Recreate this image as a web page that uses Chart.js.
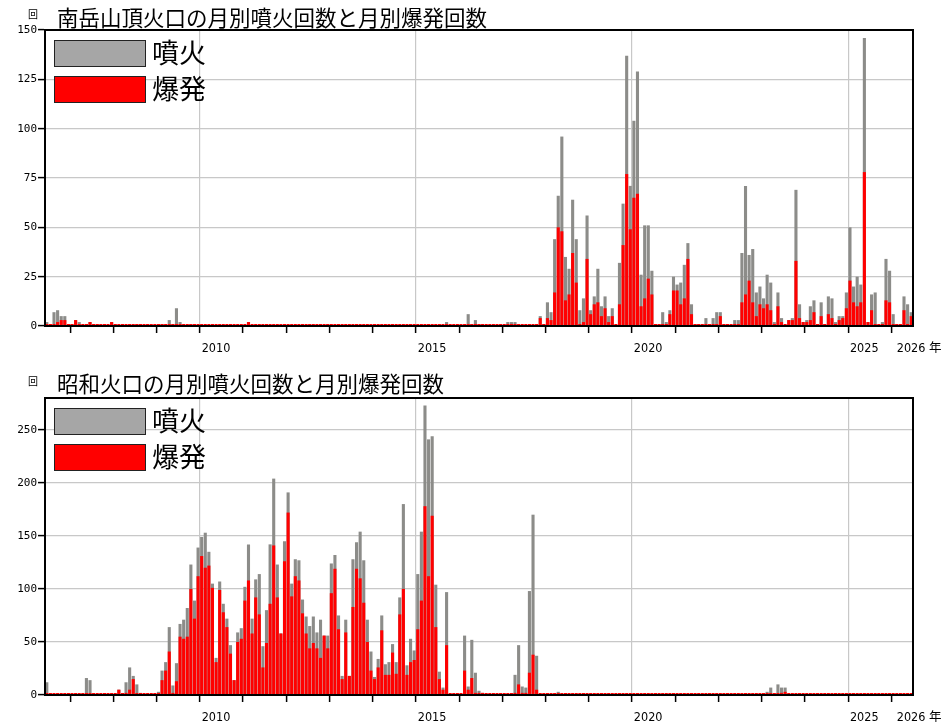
<!DOCTYPE html>
<html lang="ja">
<head>
<meta charset="utf-8">
<title>桜島 月別噴火回数と月別爆発回数</title>
<script src="https://cdn.jsdelivr.net/npm/chart.js@4/dist/chart.umd.min.js"></script>
<style>
  body { margin: 0; background: #fff; }
  #wrap { position: relative; width: 944px; height: 725px; overflow: hidden; }
  canvas { position: absolute; left: 0; }
  #c1 { top: 0; }
  #c2 { top: 362px; }
  .title { position: absolute; left: 57px; font: 21.5px/21.5px "Noto Sans CJK JP", sans-serif; color: #000; white-space: nowrap; }
  .unit { position: absolute; left: 28px; font: 10px/10px "Noto Sans CJK JP", sans-serif; color: #000; }
  .legend { position: absolute; left: 54px; }
  .legend .item { position: relative; height: 36px; }
  .legend .sw { position: absolute; left: 0; top: 0; width: 90px; height: 25px; border: 1px solid #222; }
  .legend .lb { position: absolute; left: 98px; top: -2px; font: 27px/27px "Noto Sans CJK JP", sans-serif; color: #000; white-space: nowrap; }
</style>
</head>
<body>
<div id="wrap">
  <canvas id="c1" width="944" height="362"></canvas>
  <canvas id="c2" width="944" height="363"></canvas>
  <div class="unit" style="top:9px">回</div>
  <div class="title" style="top:6px">南岳山頂火口の月別噴火回数と月別爆発回数</div>
  <div class="legend" id="lg1" style="top:40px"></div>
  <div class="unit" style="top:376px">回</div>
  <div class="title" style="top:372px">昭和火口の月別噴火回数と月別爆発回数</div>
  <div class="legend" id="lg2" style="top:408px"></div>
</div>
<script>
// months shown: 2006-06 .. 2026-06
const startYear = 2006, startMonth = 6, monthCount = 241;
const months = [];
for (let i = 0; i < monthCount; i++) {
  const m = startMonth - 1 + i;
  months.push({ year: startYear + Math.floor(m / 12), month: (m % 12) + 1 });
}
const monthLabels = months.map(d => d.year + "-" + String(d.month).padStart(2, "0"));

const seriesNames = ["噴火", "爆発"];
const yearLabels = { 2010: "2010", 2015: "2015", 2020: "2020", 2025: "2025", 2026: " 2026 年" };

// 南岳山頂火口
const minamiEruptions = [
  2, 0, 7, 8, 5, 5, 1,                             // 2006 Jun-Dec
  1, 3, 2, 0, 1, 2, 0, 1, 0, 1, 0, 2,              // 2007
  1, 0, 0, 0, 1, 0, 1, 1, 0, 1, 0, 0,              // 2008
  1, 1, 0, 3, 1, 9, 2, 0, 0, 1, 0, 0,              // 2009
  0, 0, 0, 0, 0, 0, 0, 0, 0, 0, 0, 0,              // 2010
  0, 2, 0, 0, 0, 0, 0, 0, 0, 0, 0, 0,              // 2011
  0, 0, 0, 0, 0, 0, 1, 0, 0, 0, 0, 1,              // 2012
  0, 0, 0, 0, 0, 0, 0, 0, 0, 0, 0, 0,              // 2013
  0, 0, 0, 0, 0, 0, 0, 0, 0, 0, 1, 0,              // 2014
  0, 0, 0, 0, 0, 0, 0, 0, 2, 0, 0, 0,              // 2015
  0, 0, 6, 1, 3, 1, 0, 0, 0, 0, 0, 0,              // 2016
  0, 2, 2, 2, 0, 0, 0, 0, 0, 1, 5, 1,              // 2017
  12, 7, 44, 66, 96, 35, 29, 64, 44, 8, 14, 56,    // 2018
  8, 15, 29, 10, 15, 5, 9, 0, 32, 62, 137, 71,     // 2019
  104, 129, 26, 51, 51, 28, 0, 1, 7, 2, 8, 25,     // 2020
  21, 22, 31, 42, 11, 1, 1, 0, 4, 1, 4, 7,         // 2021
  7, 1, 1, 0, 3, 3, 37, 71, 36, 39, 17, 20,        // 2022
  14, 26, 22, 2, 17, 4, 0, 3, 4, 69, 11, 2,        // 2023
  3, 10, 13, 1, 12, 1, 15, 14, 2, 5, 5, 17,        // 2024
  50, 20, 25, 21, 146, 2, 16, 17, 0, 2, 34, 28,    // 2025
  6, 1, 0, 15, 11, 7                               // 2026 Jan-Jun
];
const minamiExplosions = [
  0, 0, 0, 2, 3, 3, 0,
  1, 3, 0, 0, 0, 2, 0, 1, 0, 1, 0, 2,
  1, 0, 0, 0, 1, 0, 1, 1, 0, 0, 0, 0,
  1, 1, 0, 0, 0, 0, 0, 0, 0, 1, 0, 0,
  0, 0, 0, 0, 0, 0, 0, 0, 0, 0, 0, 0,
  0, 2, 0, 0, 0, 0, 0, 0, 0, 0, 0, 0,
  0, 0, 0, 0, 0, 0, 1, 0, 0, 0, 0, 1,
  0, 0, 0, 0, 0, 0, 0, 0, 0, 0, 0, 0,
  0, 0, 0, 0, 0, 0, 0, 0, 0, 0, 0, 0,
  0, 0, 0, 0, 0, 0, 0, 0, 0, 0, 0, 0,
  0, 0, 0, 0, 0, 0, 0, 0, 0, 0, 0, 0,
  0, 0, 0, 0, 0, 0, 0, 0, 0, 0, 4, 0,
  4, 3, 17, 50, 48, 13, 16, 37, 22, 0, 2, 34,
  6, 11, 12, 5, 9, 2, 5, 0, 11, 41, 77, 49,
  65, 67, 10, 14, 24, 16, 0, 1, 0, 0, 6, 18,
  18, 11, 14, 34, 6, 0, 0, 0, 0, 1, 1, 1,
  5, 0, 1, 0, 1, 1, 12, 16, 23, 12, 5, 11,
  9, 11, 8, 1, 10, 2, 0, 3, 3, 33, 4, 2,
  2, 3, 7, 0, 5, 0, 6, 4, 1, 3, 4, 9,
  23, 12, 10, 12, 78, 2, 8, 1, 0, 0, 13, 12,
  1, 0, 0, 8, 1, 5
];

// 昭和火口
const showaEruptions = [
  12, 0, 0, 0, 0, 0, 0,
  0, 0, 0, 0, 16, 14, 0, 0, 0, 0, 0, 0,
  0, 5, 1, 12, 26, 18, 10, 2, 1, 0, 0, 0,
  3, 23, 31, 64, 9, 30, 67, 71, 82, 123, 89, 139,
  149, 153, 135, 105, 35, 107, 86, 72, 47, 14, 59, 63,
  102, 142, 72, 109, 114, 46, 80, 142, 204, 123, 58, 145,
  191, 105, 128, 127, 90, 74, 65, 74, 59, 71, 56, 56,
  124, 132, 75, 18, 71, 18, 128, 144, 154, 127, 71, 41,
  17, 34, 75, 29, 31, 48, 31, 92, 180, 28, 53, 42,
  114, 154, 273, 241, 244, 104, 22, 7, 97, 1, 0, 0,
  0, 56, 8, 52, 21, 4, 2, 0, 0, 0, 0, 0,
  0, 0, 0, 19, 47, 8, 7, 98, 170, 37, 0, 0,
  0, 0, 0, 3, 0, 0, 0, 0, 0, 0, 0, 0,
  0, 0, 0, 0, 0, 0, 0, 0, 0, 0, 0, 0,
  0, 0, 0, 0, 0, 0, 0, 0, 0, 0, 0, 0,
  0, 0, 0, 0, 0, 0, 0, 0, 0, 0, 0, 0,
  0, 0, 0, 0, 0, 0, 0, 0, 0, 0, 0, 0,
  0, 3, 7, 1, 10, 7, 7, 1, 0, 0, 0, 0,
  0, 0, 0, 0, 0, 0, 0, 0, 0, 0, 0, 0,
  0, 0, 0, 0, 0, 0, 0, 0, 0, 0, 0, 0,
  0, 0, 0, 0, 0, 0
];
const showaExplosions = [
  0, 0, 0, 0, 0, 0, 0,
  0, 0, 0, 0, 0, 0, 0, 0, 0, 0, 0, 0,
  0, 5, 0, 2, 5, 15, 1, 0, 0, 0, 0, 0,
  1, 14, 23, 41, 2, 13, 55, 53, 55, 100, 72, 112,
  131, 120, 122, 101, 31, 99, 78, 64, 39, 14, 50, 53,
  89, 108, 58, 92, 76, 26, 49, 86, 141, 92, 58, 126,
  172, 93, 112, 108, 77, 58, 44, 49, 44, 35, 56, 44,
  96, 119, 62, 15, 59, 18, 83, 119, 110, 87, 50, 23,
  15, 26, 61, 19, 19, 40, 20, 76, 100, 19, 31, 33,
  62, 89, 178, 112, 169, 64, 15, 5, 47, 0, 0, 0,
  0, 23, 5, 16, 2, 2, 2, 0, 0, 0, 0, 0,
  0, 0, 0, 2, 10, 2, 2, 21, 38, 5, 0, 0,
  0, 0, 0, 0, 0, 0, 0, 0, 0, 0, 0, 0,
  0, 0, 0, 0, 0, 0, 0, 0, 0, 0, 0, 0,
  0, 0, 0, 0, 0, 0, 0, 0, 0, 0, 0, 0,
  0, 0, 0, 0, 0, 0, 0, 0, 0, 0, 0, 0,
  0, 0, 0, 0, 0, 0, 0, 0, 0, 0, 0, 0,
  0, 0, 0, 0, 0, 2, 3, 0, 0, 0, 0, 0,
  0, 0, 0, 0, 0, 0, 0, 0, 0, 0, 0, 0,
  0, 0, 0, 0, 0, 0, 0, 0, 0, 0, 0, 0,
  0, 0, 0, 0, 0, 0
];

const barColors = ["#8c8c89", "#ff0000"];
const legendColors = ["#a6a6a6", "#ff0000"];
const gridColor = "#c8c8c8";

// outer box round the plot area
const frame = {
  id: "frame",
  afterDraw(chart) {
    const { ctx, chartArea: a } = chart;
    ctx.save();
    ctx.strokeStyle = "#000";
    ctx.lineWidth = 2;
    ctx.strokeRect(a.left, a.top, a.right - a.left, a.bottom - a.top);
    ctx.restore();
  }
};

function isJan(ctx) {
  return ctx.tick !== undefined && months[ctx.index] !== undefined && months[ctx.index].month === 1;
}

function buildPanel(id, eruptions, explosions, yMax, yStep, padTop, xHeight) {
  return new Chart(document.getElementById(id), {
    type: "bar",
    data: {
      labels: monthLabels,
      datasets: [
        { label: seriesNames[0], data: eruptions, backgroundColor: barColors[0], order: 1,
          grouped: false, barPercentage: 0.86, categoryPercentage: 1 },
        { label: seriesNames[1], data: explosions, backgroundColor: barColors[1], order: 0,
          grouped: false, barPercentage: 0.86, categoryPercentage: 1, minBarLength: 2 }
      ]
    },
    options: {
      responsive: false,
      animation: false,
      layout: { padding: { top: padTop, right: 31, left: 0, bottom: 0 } },
      plugins: { legend: { display: false }, tooltip: { enabled: false } },
      scales: {
        x: {
          grid: {
            offset: true,
            color: ctx => (isJan(ctx) && months[ctx.index].year % 5 === 0) ? gridColor : "rgba(0,0,0,0)",
            tickColor: ctx => isJan(ctx) ? "#000" : "rgba(0,0,0,0)",
            tickLength: 7,
            tickWidth: 1.5,
            lineWidth: 1.2
          },
          border: { color: "#000", width: 2 },
          ticks: {
            autoSkip: false,
            maxRotation: 0,
            minRotation: 0,
            align: "start",
            padding: 8,
            color: "#000",
            font: { family: "'DejaVu Sans Condensed', 'Noto Sans CJK JP'", size: 12.5 },
            callback: (v, i) => (months[i].month === 1 && yearLabels[months[i].year]) ? yearLabels[months[i].year] : ""
          },
          afterFit: s => { s.height = xHeight; }
        },
        y: {
          min: 0,
          max: yMax,
          grid: {
            color: ctx => (ctx.tick && ctx.tick.value > 0) ? gridColor : "rgba(0,0,0,0)",
            tickColor: "#000",
            tickLength: 7,
            tickWidth: 1.5,
            lineWidth: 1.2
          },
          border: { color: "#000", width: 2 },
          ticks: {
            stepSize: yStep,
            includeBounds: false,
            padding: 1,
            color: "#000",
            font: { family: "'DejaVu Sans Mono'", size: 11 }
          },
          afterFit: s => { s.width = 45; }
        }
      }
    },
    plugins: [frame]
  });
}

function buildLegend(id) {
  const box = document.getElementById(id);
  seriesNames.forEach((name, i) => {
    const item = document.createElement("div");
    item.className = "item";
    item.innerHTML = '<div class="sw" style="background:' + legendColors[i] + '"></div><div class="lb">' + name + "</div>";
    box.appendChild(item);
  });
}

buildPanel("c1", minamiEruptions, minamiExplosions, 150, 25, 30, 36);
buildPanel("c2", showaEruptions, showaExplosions, 280, 50, 36, 30);
buildLegend("lg1");
buildLegend("lg2");
</script>
</body>
</html>
